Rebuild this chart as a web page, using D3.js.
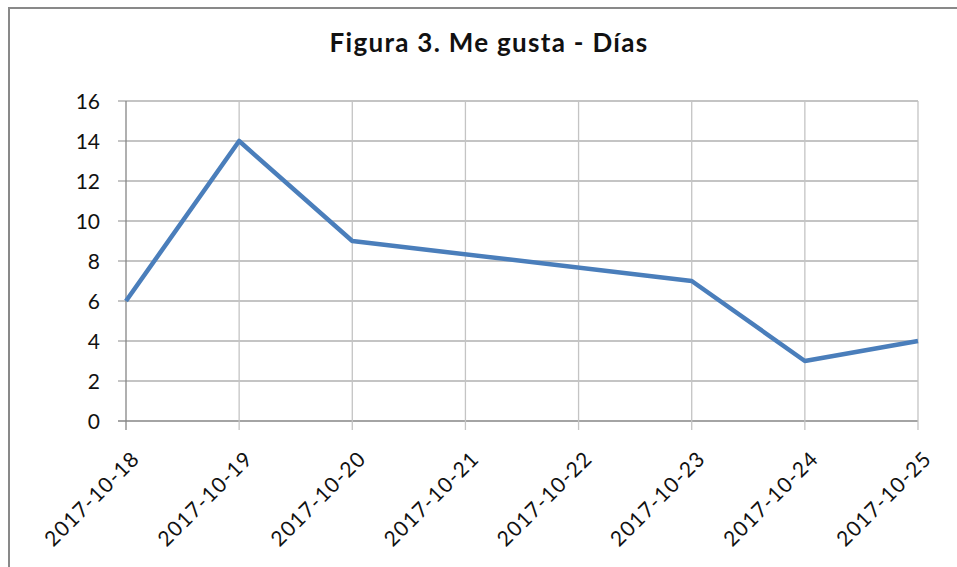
<!DOCTYPE html>
<html lang="es">
<head>
<meta charset="utf-8">
<title>Figura 3. Me gusta - Días</title>
<script src="https://cdn.jsdelivr.net/npm/d3@7"></script>
<style>
  body { margin: 0; background: #fff; }
  text { font-family: Lato, "Open Sans", sans-serif; fill: #111; }
</style>
</head>
<body>
<svg width="957" height="567"></svg>
<script>
// data (missing days are simply joined by the line)
var dayLabels = ['2017-10-18','2017-10-19','2017-10-20','2017-10-21','2017-10-22','2017-10-23','2017-10-24','2017-10-25'];
var pointDates = ['2017-10-18','2017-10-19','2017-10-20','2017-10-23','2017-10-24','2017-10-25'];
var likes = [6, 14, 9, 7, 3, 4];
var yTicks = [0, 2, 4, 6, 8, 10, 12, 14, 16];

var parse = d3.utcParse('%Y-%m-%d');
var fmt = d3.utcFormat('%Y-%m-%d');

var svg = d3.select('svg');

// chart area border
svg.append('rect')
    .attr('x', 9).attr('y', 8)
    .attr('width', 980).attr('height', 600)
    .attr('fill', 'none')
    .attr('stroke', '#898989')
    .attr('stroke-width', 2);

svg.append('text')
    .attr('x', 489).attr('y', 52)
    .attr('text-anchor', 'middle')
    .style('font-size', '26px')
    .style('font-weight', 'bold')
    .style('letter-spacing', '1.3px')
    .text('Figura 3. Me gusta - Días');

var x = d3.scaleUtc()
    .domain([parse(dayLabels[0]), parse(dayLabels[dayLabels.length - 1])])
    .range([126, 918]);

var y = d3.scaleLinear()
    .domain([0, 16])
    .range([421, 101]);

// horizontal gridlines
svg.append('g')
    .selectAll('line')
    .data(yTicks)
    .enter()
    .append('line')
    .attr('x1', 118).attr('x2', 918)
    .attr('y1', d => y(d)).attr('y2', d => y(d))
    .attr('stroke', d => d === 0 ? '#868686' : '#b0b0b0')
    .attr('stroke-width', 1.3);

// vertical gridlines + x tick marks
svg.append('g')
    .selectAll('line')
    .data(dayLabels)
    .enter()
    .append('line')
    .attr('x1', d => x(parse(d))).attr('x2', d => x(parse(d)))
    .attr('y1', 101).attr('y2', 430)
    .attr('stroke', (d, i) => i === 0 ? '#868686' : '#c4c4c4')
    .attr('stroke-width', 1.3);

// y axis labels
svg.append('g')
    .selectAll('text')
    .data(yTicks)
    .enter()
    .append('text')
    .attr('x', 100)
    .attr('y', d => y(d))
    .attr('dy', '0.36em')
    .attr('text-anchor', 'end')
    .style('font-size', '21px')
    .text(d => d);

// x axis labels, rotated
svg.append('g')
    .selectAll('text')
    .data(dayLabels)
    .enter()
    .append('text')
    .attr('transform', d => 'translate(' + (x(parse(d)) + 15) + ',' + 460 + ') rotate(-45)')
    .attr('text-anchor', 'end')
    .style('font-size', '21px')
    .style('letter-spacing', '1.1px')
    .text(d => fmt(parse(d)));

var line = d3.line()
    .x((d, i) => x(parse(pointDates[i])))
    .y(d => y(d));

svg.append('path')
    .datum(likes)
    .attr('d', line)
    .attr('fill', 'none')
    .attr('stroke', '#4a7ebb')
    .attr('stroke-width', 4.5)
    .attr('stroke-linejoin', 'round');
</script>
</body>
</html>
